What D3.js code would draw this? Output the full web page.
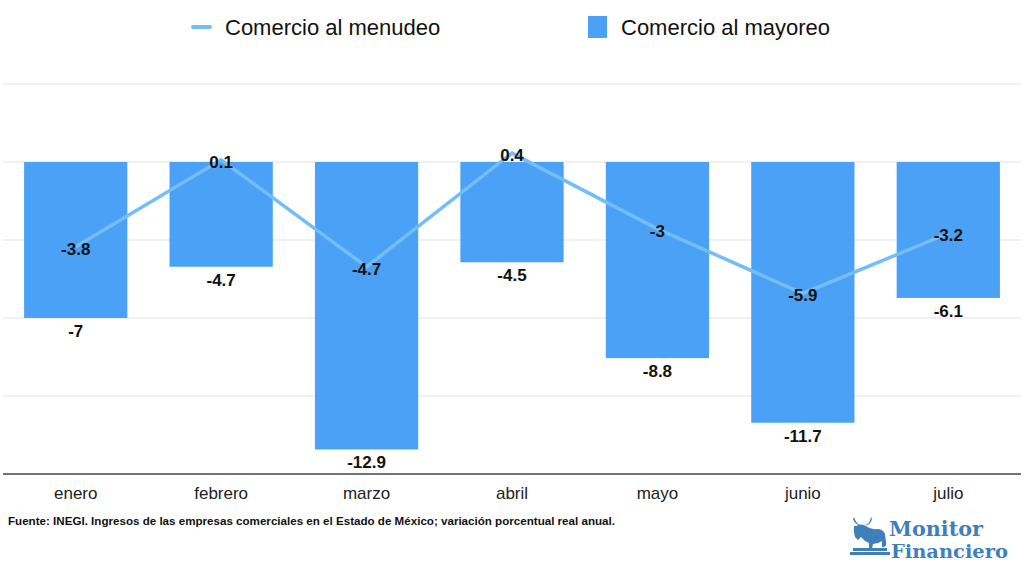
<!DOCTYPE html>
<html><head><meta charset="utf-8">
<script src="https://cdn.jsdelivr.net/npm/d3@7"></script>
<style>body{margin:0;background:#fff}svg{display:block;font-family:"Liberation Sans",Arial,sans-serif}</style>
</head><body>
<svg id="c" width="1024" height="562"></svg>
<script>
const months = ["enero","febrero","marzo","abril","mayo","junio","julio"];
const menudeo = [-3.8, 0.1, -4.7, 0.4, -3, -5.9, -3.2];
const mayoreo = [-7, -4.7, -12.9, -4.5, -8.8, -11.7, -6.1];
const gridTicks = [3.5, 0, -3.5, -7, -10.5, -14];
const seriesNames = ["Comercio al menudeo", "Comercio al mayoreo"];
const source = "Fuente: INEGI. Ingresos de las empresas comerciales en el Estado de México; variación porcentual real anual.";

const svg = d3.select("#c");
const barColor = "#4aa1f6", lineColor = "#74bdf6";
const x = d3.scaleBand().domain(months).range([3, 1021]).paddingInner(0.29).paddingOuter(0.145);
const y = d3.scaleLinear().domain([-14, 3.5]).range([474, 84]);

// gridlines
svg.append("g").selectAll("line").data(gridTicks.filter(t => t !== -14)).join("line")
  .attr("x1", 3).attr("x2", 1021).attr("y1", d => y(d)).attr("y2", d => y(d))
  .attr("stroke", "#e3e3e3").attr("stroke-width", 1.2);

// bars
svg.append("g").selectAll("rect").data(mayoreo).join("rect")
  .attr("x", (d, i) => x(months[i])).attr("width", x.bandwidth())
  .attr("y", d => y(Math.max(0, d))).attr("height", d => Math.abs(y(d) - y(0)))
  .attr("fill", barColor);

// axis line
svg.append("line").attr("x1", 3).attr("x2", 1021).attr("y1", y(-14)).attr("y2", y(-14))
  .attr("stroke", "#444").attr("stroke-width", 1.5);

// x axis labels
const xAxis = d3.axisBottom(x).tickSize(0).tickPadding(13);
const gx = svg.append("g").attr("transform", `translate(0,${y(-14)})`).call(xAxis);
gx.select(".domain").remove();
gx.selectAll("text").attr("font-size", 17).attr("fill", "#222").attr("font-family", "Liberation Sans, Arial, sans-serif");

// line
const cx = i => x(months[i]) + x.bandwidth() / 2;
svg.append("path").datum(menudeo)
  .attr("d", d3.line().x((d, i) => cx(i)).y(d => y(d)))
  .attr("fill", "none").attr("stroke", lineColor).attr("stroke-width", 3.5);

// bar labels
svg.append("g").selectAll("text").data(mayoreo).join("text")
  .attr("x", (d, i) => cx(i)).attr("y", d => y(d) + 19)
  .attr("text-anchor", "middle").attr("font-size", 17).attr("font-weight", "bold").attr("fill", "#111")
  .text(d => d);

// line labels
svg.append("g").selectAll("text").data(menudeo).join("text")
  .attr("x", (d, i) => cx(i)).attr("y", d => y(d) + 8)
  .attr("text-anchor", "middle").attr("font-size", 17).attr("font-weight", "bold").attr("fill", "#111")
  .text(d => d);

// legend
const lg = svg.append("g");
lg.append("line").attr("x1", 193).attr("x2", 210).attr("y1", 27).attr("y2", 27)
  .attr("stroke", lineColor).attr("stroke-width", 4).attr("stroke-linecap", "round");
lg.append("text").attr("x", 225).attr("y", 35).attr("font-size", 22).attr("fill", "#111").text(seriesNames[0]);
lg.append("rect").attr("x", 588).attr("y", 16).attr("width", 19).attr("height", 22).attr("fill", barColor);
lg.append("text").attr("x", 621).attr("y", 35).attr("font-size", 22).attr("fill", "#111").text(seriesNames[1]);

// source
svg.append("text").attr("x", 8).attr("y", 525).attr("font-size", 11.6).attr("font-weight", "bold")
  .attr("fill", "#111").text(source);

// logo
const logo = svg.append("g").attr("fill", "#3f7fba");
logo.append("text").attr("x", 889).attr("y", 536).attr("font-size", 21).attr("font-weight", "bold")
  .attr("font-family", "DejaVu Serif, serif").attr("textLength", 94).attr("lengthAdjust", "spacingAndGlyphs").text("Monitor");
logo.append("text").attr("x", 891).attr("y", 558).attr("font-size", 19).attr("font-weight", "bold")
  .attr("font-family", "DejaVu Serif, serif").attr("textLength", 117).attr("lengthAdjust", "spacingAndGlyphs").text("Financiero");
// simple bull silhouette
logo.append("path").attr("d",
  "M854,517 q2,7 7,8 q-5,1 -8,-6 z M871,517 q-1,7 -6,8 q5,1 7,-6 z " +
  "M856,526 q5,-3 10,0 q5,4 11,3 q6,0 8,5 l1,8 q1,4 -2,5 l-2,0 l0,-6 q-4,3 -9,3 l-1,5 l-3,0 l0,-6 q-5,-2 -8,-6 l-3,3 l-3,-3 q-2,-6 -1,-11 z");
logo.append("rect").attr("x", 853).attr("y", 548).attr("width", 34).attr("height", 3);
logo.append("rect").attr("x", 850).attr("y", 552).attr("width", 40).attr("height", 3);
</script>
</body></html>
